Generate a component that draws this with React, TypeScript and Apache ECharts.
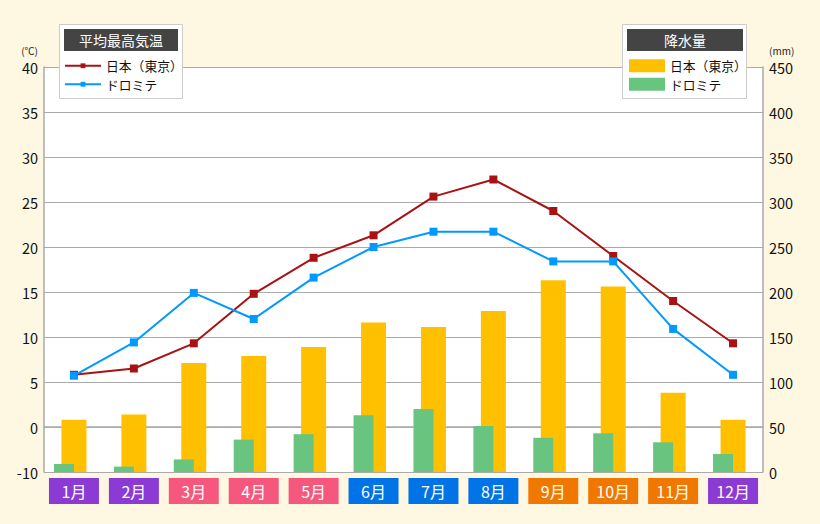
import React, { useEffect, useRef } from "react";
import * as echarts from "echarts";

const months = ["1月", "2月", "3月", "4月", "5月", "6月", "7月", "8月", "9月", "10月", "11月", "12月"];
const monthColorKeys = ["w", "w", "s", "s", "s", "u", "u", "u", "a", "a", "a", "w"];
const tempTokyo = [5.8, 6.5, 9.3, 14.8, 18.8, 21.3, 25.6, 27.5, 24.0, 19.0, 14.0, 9.3];
const tempDolomiti = [5.7, 9.4, 14.9, 12.0, 16.6, 20.0, 21.7, 21.7, 18.4, 18.4, 10.9, 5.8];
const rainTokyo = [58, 64, 121, 129, 139, 166, 161, 179, 213, 206, 88, 58];
const rainDolomiti = [9, 6, 14, 36, 42, 63, 70, 51, 38, 43, 33, 20];
const tempTicksMin = -5; // bottom tick shown as -10 in the original
const tempBottomLabel = "-10";

const FONT = "'Noto Sans CJK JP', 'Noto Sans', sans-serif";

export default function App() {
  const ref = useRef<HTMLDivElement>(null);
  useEffect(() => {
    if (!ref.current) return;
    const chart = echarts.init(ref.current, null, { renderer: "svg" });
    const rich: any = {
      w: { backgroundColor: "#8b3bd4" },
      s: { backgroundColor: "#f5577d" },
      u: { backgroundColor: "#0073e6" },
      a: { backgroundColor: "#f07800" },
    };
    Object.keys(rich).forEach((k) => {
      Object.assign(rich[k], {
        width: 50,
        height: 26,
        lineHeight: 26,
        align: "center",
        color: "#fff",
        fontSize: 16,
        fontFamily: FONT,
      });
    });
    const legendText = { fontSize: 12.8, lineHeight: 18.5, color: "#111", fontFamily: FONT };
    chart.setOption({
      animation: false,
      backgroundColor: "#fef8e2",
      textStyle: { fontFamily: FONT },
      grid: {
        left: 44,
        right: 57,
        top: 67,
        bottom: 52,
        show: true,
        backgroundColor: "#ffffff",
        borderWidth: 0,
      },
      legend: [
        {
          orient: "vertical",
          left: 64,
          top: 56.5,
          padding: 0,
          itemWidth: 36,
          itemHeight: 6,
          itemGap: 0,
          z: 20,
          data: ["T-日本（東京）", "T-ドロミテ"],
          formatter: (n: string) => n.slice(2),
          textStyle: legendText,
          selectedMode: false,
        },
        {
          orient: "vertical",
          left: 629,
          top: 56.5,
          padding: 0,
          itemWidth: 36,
          itemHeight: 13,
          itemGap: 0,
          icon: "rect",
          z: 20,
          data: ["P-日本（東京）", "P-ドロミテ"],
          formatter: (n: string) => n.slice(2),
          textStyle: legendText,
          selectedMode: false,
        },
      ],
      graphic: [
        { type: "rect", z: 10, shape: { x: 59.5, y: 24.5, width: 123, height: 74 }, style: { fill: "#fff", stroke: "#cccccc", lineWidth: 1 } },
        { type: "rect", z: 11, shape: { x: 64, y: 29, width: 114, height: 22 }, style: { fill: "#444444" } },
        { type: "text", z: 12, x: 121, y: 40, style: { text: "平均最高気温", fill: "#fff", font: `14px ${FONT}`, textAlign: "center", textVerticalAlign: "middle" } },
        { type: "rect", z: 10, shape: { x: 622.5, y: 24.5, width: 124, height: 74 }, style: { fill: "#fff", stroke: "#cccccc", lineWidth: 1 } },
        { type: "rect", z: 11, shape: { x: 627, y: 29, width: 116, height: 22 }, style: { fill: "#444444" } },
        { type: "text", z: 12, x: 685, y: 40, style: { text: "降水量", fill: "#fff", font: `14px ${FONT}`, textAlign: "center", textVerticalAlign: "middle" } },
      ],
      xAxis: [
        {
          type: "category",
          data: months,
          axisLine: { show: true, lineStyle: { color: "#aaaaaa", width: 1.5 } },
          axisTick: { show: false },
          axisLabel: {
            margin: 6,
            interval: 0,
            formatter: (v: string, i: number) => `{${monthColorKeys[i]}|${v}}`,
            rich,
          },
        },
        {
          type: "category",
          data: months,
          show: false,
        },
      ],
      yAxis: [
        {
          type: "value",
          min: tempTicksMin,
          max: 40,
          interval: 5,
          name: "(℃)",
          nameLocation: "end",
          nameGap: 12,
          nameTextStyle: { fontSize: 10, color: "#222", align: "right", padding: [0, 6, 0, 0], fontFamily: FONT },
          axisLine: { show: true, lineStyle: { color: "#aaaaaa", width: 1.5 } },
          axisTick: { show: false },
          axisLabel: {
            margin: 6,
            fontSize: 14.5,
            color: "#111",
            fontFamily: FONT,
            formatter: (v: number) => (v === tempTicksMin ? tempBottomLabel : String(v)),
          },
          splitLine: { show: true, lineStyle: { color: "#aaaaaa", width: 1 } },
        },
        {
          type: "value",
          min: 0,
          max: 450,
          interval: 50,
          name: "(mm)",
          nameLocation: "end",
          nameGap: 12,
          nameTextStyle: { fontSize: 10, color: "#222", align: "left", padding: [0, 0, 0, 6], fontFamily: FONT },
          axisLine: { show: true, lineStyle: { color: "#aaaaaa", width: 1.5 } },
          axisTick: { show: false },
          axisLabel: { margin: 6, fontSize: 14.5, color: "#111", fontFamily: FONT },
          splitLine: { show: false },
        },
      ],
      series: [
        {
          name: "P-日本（東京）",
          type: "bar",
          xAxisIndex: 0,
          yAxisIndex: 1,
          barWidth: 25,
          data: rainTokyo,
          itemStyle: { color: "#ffc000" },
        },
        {
          name: "P-ドロミテ",
          type: "bar",
          xAxisIndex: 1,
          yAxisIndex: 1,
          barWidth: 20,
          barGap: "0%",
          data: rainDolomiti,
          itemStyle: { color: "#68c47f" },
        },
        {
          name: "spacer",
          type: "bar",
          xAxisIndex: 1,
          yAxisIndex: 1,
          barWidth: 20,
          barGap: "0%",
          data: months.map(() => null),
          itemStyle: { color: "transparent" },
        },
        {
          name: "T-日本（東京）",
          type: "line",
          xAxisIndex: 0,
          yAxisIndex: 0,
          z: 5,
          data: tempTokyo,
          symbol: "rect",
          symbolSize: 8,
          color: "#a81212",
          lineStyle: { color: "#a81212", width: 2 },
          itemStyle: { color: "#a81212" },
        },
        {
          name: "T-ドロミテ",
          type: "line",
          xAxisIndex: 0,
          yAxisIndex: 0,
          z: 5,
          data: tempDolomiti,
          symbol: "rect",
          symbolSize: 8,
          color: "#0099ff",
          lineStyle: { color: "#0099ff", width: 2 },
          itemStyle: { color: "#0099ff" },
        },
      ],
    });
    return () => chart.dispose();
  }, []);
  return (
    <div
      ref={ref}
      style={{ position: "fixed", left: 0, top: 0, width: 820, height: 524 }}
    />
  );
}
